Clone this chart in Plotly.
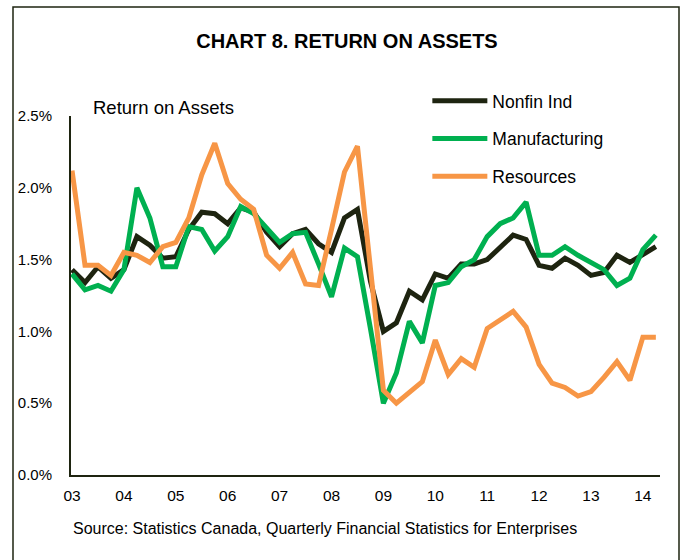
import plotly.graph_objects as go

years = list(range(2003, 2015))
tick_labels = ["03", "04", "05", "06", "07", "08", "09", "10", "11", "12", "13", "14"]
# quarterly, 2003Q1 .. 2014Q2
quarters = [y + q / 4 for y in range(2003, 2015) for q in range(4)][:46]

nonfin = [1.43, 1.34, 1.45, 1.37, 1.43, 1.66, 1.60, 1.51, 1.52, 1.71, 1.83, 1.82,
          1.75, 1.86, 1.83, 1.69, 1.59, 1.68, 1.71, 1.61, 1.55, 1.79, 1.85, 1.35,
          1.00, 1.06, 1.28, 1.22, 1.40, 1.37, 1.47, 1.47, 1.50, 1.59, 1.67, 1.64,
          1.46, 1.44, 1.51, 1.46, 1.39, 1.41, 1.53, 1.48, 1.53, 1.59]
manufacturing = [1.40, 1.29, 1.32, 1.28, 1.43, 2.00, 1.79, 1.45, 1.45, 1.73, 1.71, 1.56,
                 1.66, 1.87, 1.82, 1.72, 1.62, 1.68, 1.69, 1.47, 1.24, 1.58, 1.52, 1.02,
                 0.50, 0.71, 1.07, 0.92, 1.32, 1.34, 1.45, 1.50, 1.66, 1.75, 1.79, 1.90,
                 1.53, 1.53, 1.59, 1.53, 1.48, 1.43, 1.32, 1.37, 1.57, 1.67]
resources = [2.12, 1.46, 1.46, 1.39, 1.55, 1.53, 1.48, 1.59, 1.62, 1.79, 2.09, 2.31,
             2.03, 1.92, 1.85, 1.53, 1.44, 1.55, 1.33, 1.32, 1.71, 2.11, 2.29, 1.42,
             0.59, 0.50, 0.57, 0.65, 0.94, 0.70, 0.81, 0.75, 1.02, 1.08, 1.14, 1.03,
             0.77, 0.64, 0.61, 0.55, 0.58, 0.68, 0.79, 0.66, 0.96, 0.96]

series_names = ["Nonfin Ind", "Manufacturing", "Resources"]
series_colors = ["#1e2410", "#00b050", "#f79646"]
series_values = [nonfin, manufacturing, resources]

FONT = "Liberation Sans, Arial, sans-serif"

fig = go.Figure()
for i, (name, col, vals) in enumerate(zip(series_names, series_colors, series_values)):
    fig.add_trace(go.Scatter(
        x=quarters, y=vals, mode="lines", name=name,
        line=dict(color=col, width=5), legendgroup=f"g{i}",
    ))

fig.update_layout(
    width=683, height=560,
    margin=dict(l=71, r=23, t=116, b=85),
    paper_bgcolor="white", plot_bgcolor="white",
    font=dict(family=FONT, size=16, color="black"),
    title=dict(text="<b>CHART 8. RETURN ON ASSETS</b>", x=0.508, xanchor="center",
               y=1 - 41 / 560, yanchor="middle",
               font=dict(family=FONT, size=20, color="black")),
    showlegend=True,
    legend=dict(x=0.605, y=1.092, xanchor="left", yanchor="top",
                font=dict(family=FONT, size=17.5, color="black"),
                bgcolor="rgba(0,0,0,0)", tracegroupgap=12, itemwidth=55),
    xaxis=dict(range=[2002.98, 2014.33], tickvals=years, ticktext=tick_labels,
               showgrid=False, zeroline=False, showline=True, linecolor="#1e2410",
               linewidth=2, ticks="", ticklabelstandoff=5,
               tickfont=dict(family=FONT, size=15.5, color="black")),
    yaxis=dict(range=[0, 2.5], tickvals=[0, 0.5, 1.0, 1.5, 2.0, 2.5],
               ticktext=["0.0%", "0.5%", "1.0%", "1.5%", "2.0%", "2.5%"],
               showgrid=False, zeroline=False, showline=True, linecolor="#1e2410",
               linewidth=2, ticks="", ticklabelstandoff=14,
               tickfont=dict(family=FONT, size=15, color="black")),
    annotations=[
        dict(text="Return on Assets", xref="paper", yref="paper",
             x=(91 - 71) / 589, y=(475 - 108) / 359, xanchor="left", yanchor="middle",
             showarrow=False, font=dict(family=FONT, size=18.5, color="black")),
        dict(text="Source: Statistics Canada, Quarterly Financial Statistics for Enterprises",
             xref="paper", yref="paper", x=(71 - 71) / 589, y=(475 - 528) / 359,
             xanchor="left", yanchor="middle", showarrow=False,
             font=dict(family=FONT, size=16, color="black")),
    ],
    shapes=[
        dict(type="rect", xref="paper", yref="paper",
             x0=(13 - 71) / 589, x1=(679 - 71) / 589,
             y0=(475 - 570) / 359, y1=(475 - 7) / 359,
             line=dict(color="#1e2410", width=1.5), fillcolor="rgba(0,0,0,0)", layer="below"),
    ],
)

fig.write_html("out.html", config={"displayModeBar": False},
               post_script="document.body.style.margin='0px';")
